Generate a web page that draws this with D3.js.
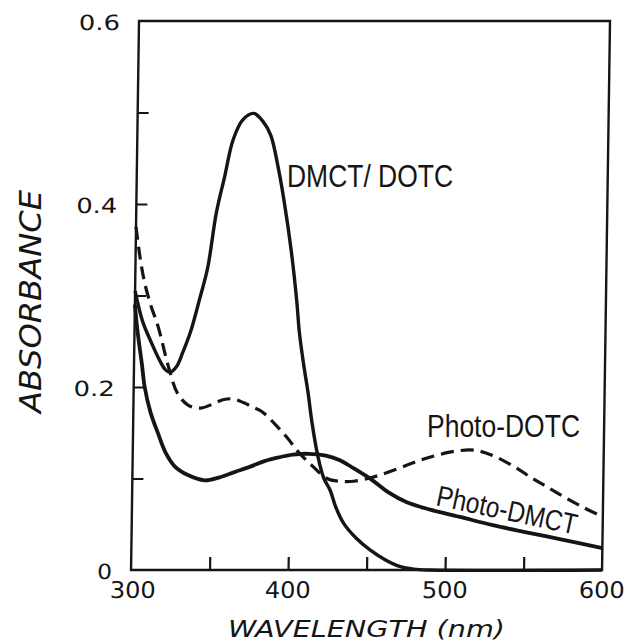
<!DOCTYPE html>
<html>
<head>
<meta charset="utf-8">
<script src="https://cdn.jsdelivr.net/npm/d3@7"></script>
<style>
  html, body { margin: 0; padding: 0; background: #fff; }
  svg { display: block; }
</style>
</head>
<body>
<svg id="chart" width="626" height="643"></svg>
<script>
// ---- data ----
const dmctWl  = [300,305,311,316,320,323,327,331,336,341,346,351,356,361,367,374,380,385,390,394,399,403,405,408,411,414,418,422,426,430,435,443,452,462,471,480,490,600];
const dmctAbs = [0.305,0.272,0.248,0.23,0.219,0.216,0.222,0.238,0.262,0.295,0.33,0.39,0.43,0.47,0.492,0.499,0.49,0.475,0.44,0.404,0.35,0.295,0.26,0.225,0.195,0.16,0.124,0.10,0.0875,0.068,0.051,0.035,0.022,0.011,0.004,0.001,0,0];

const pdotcWl  = [300,303,306,310,315,322,328,335,343,350,357,363,370,376,382,390,398,406,415,424,432,441,450,458,468,477,485,495,506,517,528,543,555,564,575,588,600];
const pdotcAbs = [0.375,0.34,0.314,0.29,0.266,0.222,0.193,0.18,0.177,0.181,0.186,0.187,0.183,0.178,0.173,0.16,0.145,0.128,0.113,0.10,0.097,0.097,0.1,0.104,0.11,0.116,0.121,0.126,0.13,0.131,0.126,0.113,0.1,0.091,0.08,0.068,0.058];

const pdmctWl  = [300,302,305,307,311,316,321,327,335,346,355,365,375,384,393,402,412,423,432,441,453,463,475,490,509,530,549,575,600];
const pdmctAbs = [0.29,0.26,0.225,0.2,0.172,0.149,0.128,0.113,0.104,0.098,0.101,0.107,0.113,0.119,0.123,0.126,0.127,0.125,0.12,0.111,0.098,0.085,0.074,0.066,0.058,0.049,0.042,0.033,0.024];

const yTickValues = [0.1,0.2,0.3,0.4,0.5];
const xTickValues = [350,400,450,500,550];
const yLabelValues = [0,0.2,0.4,0.6];
const yLabelTexts  = ["0","0.2","0.4","0.6"];
const xLabelValues = [300,400,500,600];
const xLabelTexts  = ["300","400","500","600"];

const seriesNames = ["DMCT/ DOTC","Photo-DOTC","Photo-DMCT"];
const xTitle = "WAVELENGTH (nm)";
const yTitle = "ABSORBANCE";

// ---- layout ----
const svg = d3.select("#chart");
const W = 471, H = 549;
const ink = "#151515";
const g = svg.append("g").attr("transform", "translate(139,21) skewX(-0.83)");

const x = d3.scaleLinear().domain([300,600]).range([0,W]);
const y = d3.scaleLinear().domain([0,0.6]).range([H,0]);

// frame
g.append("rect").attr("x",0).attr("y",0).attr("width",W).attr("height",H)
  .attr("fill","none").attr("stroke",ink).attr("stroke-width",2.4);

// inward ticks
const yAxis = d3.axisLeft(y).tickValues(yTickValues).tickSize(-11).tickFormat("");
g.append("g").call(yAxis).call(s => s.select(".domain").remove())
  .selectAll("line").attr("stroke",ink).attr("stroke-width",2.2);
const xAxis = d3.axisBottom(x).tickValues(xTickValues).tickSize(-13).tickFormat("");
g.append("g").attr("transform",`translate(0,${H})`).call(xAxis).call(s => s.select(".domain").remove())
  .selectAll("line").attr("stroke",ink).attr("stroke-width",2.2);

// tick labels
const numFont = "'DejaVu Sans', sans-serif";
g.selectAll(".ylab").data(yLabelValues).enter().append("text")
  .attr("x",-19).attr("y",d => y(d)+9)
  .attr("text-anchor","end").attr("font-family",numFont).attr("font-size",21)
  .attr("fill",ink)
  .attr("textLength",(d,i)=> yLabelTexts[i].length>1 ? 41 : 15).attr("lengthAdjust","spacingAndGlyphs")
  .text((d,i)=>yLabelTexts[i]);
g.selectAll(".xlab").data(xLabelValues).enter().append("text")
  .attr("x",d => x(d) + (d===300 ? 2 : 0)).attr("y",H+28)
  .attr("text-anchor","middle").attr("font-family",numFont).attr("font-size",23)
  .attr("fill",ink)
  .attr("textLength",46).attr("lengthAdjust","spacingAndGlyphs")
  .text((d,i)=>xLabelTexts[i]);

// curves
const line = d3.line().x(d=>x(d[0])).y(d=>y(d[1])).curve(d3.curveCatmullRom.alpha(0.5));
const zip = (a,b) => a.map((v,i)=>[v,b[i]]);

g.append("path").datum(zip(dmctWl,dmctAbs)).attr("d",line)
  .attr("fill","none").attr("stroke",ink).attr("stroke-width",3.4).attr("stroke-linejoin","round");
g.append("path").datum(zip(pdotcWl,pdotcAbs)).attr("d",line)
  .attr("fill","none").attr("stroke",ink).attr("stroke-width",3.2).attr("stroke-dasharray","13,7");
g.append("path").datum(zip(pdmctWl,pdmctAbs)).attr("d",line)
  .attr("fill","none").attr("stroke",ink).attr("stroke-width",3.8).attr("stroke-linejoin","round");

// series labels (plain svg coordinates)
const labFont = "'Liberation Sans Narrow','Liberation Sans','Arial Narrow',sans-serif";
svg.append("text").attr("x",287).attr("y",187)
  .attr("font-family",labFont).attr("font-size",32).attr("fill",ink)
  .attr("textLength",166).attr("lengthAdjust","spacingAndGlyphs")
  .text(seriesNames[0]);
svg.append("text").attr("x",427).attr("y",437)
  .attr("font-family",labFont).attr("font-size",32).attr("fill",ink)
  .attr("textLength",153).attr("lengthAdjust","spacingAndGlyphs")
  .text(seriesNames[1]);
svg.append("text").attr("transform","translate(435,505) rotate(12)")
  .attr("font-family",labFont).attr("font-size",29).attr("fill",ink)
  .attr("textLength",143).attr("lengthAdjust","spacingAndGlyphs")
  .text(seriesNames[2]);

// axis titles
svg.append("text").attr("x",228).attr("y",637)
  .attr("font-family",numFont).attr("font-style","italic").attr("font-size",23).attr("fill",ink)
  .attr("textLength",277).attr("lengthAdjust","spacingAndGlyphs")
  .text(xTitle);
svg.append("text").attr("transform","translate(41,301.5) rotate(-90)")
  .attr("text-anchor","middle")
  .attr("font-family",numFont).attr("font-style","italic").attr("font-size",30).attr("fill",ink)
  .attr("textLength",223).attr("lengthAdjust","spacingAndGlyphs")
  .text(yTitle);
</script>
</body>
</html>
